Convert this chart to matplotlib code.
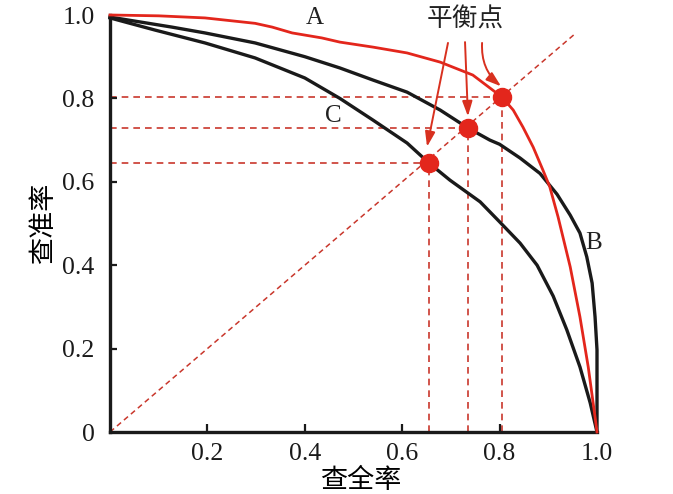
import matplotlib
matplotlib.use("Agg")
import matplotlib.pyplot as plt

# ---- data ----
a_x = [0.0, 0.10, 0.195, 0.298, 0.333, 0.374, 0.435, 0.472, 0.54, 0.61, 0.678, 0.745,
       0.805, 0.828, 0.848, 0.869, 0.889, 0.903, 0.92, 0.945, 0.965, 0.982, 0.996, 1.0]
a_y = [1.0, 0.998, 0.993, 0.98, 0.971, 0.957, 0.945, 0.935, 0.923, 0.909, 0.887, 0.856,
       0.803, 0.772, 0.731, 0.683, 0.628, 0.588, 0.516, 0.396, 0.276, 0.156, 0.036, 0.0]

b_x = [0.0, 0.127, 0.195, 0.298, 0.40, 0.472, 0.54, 0.61, 0.678, 0.735, 0.78, 0.80,
       0.842, 0.883, 0.918, 0.945, 0.965, 0.979, 0.99, 0.996, 1.0, 1.0]
b_y = [0.995, 0.971, 0.957, 0.933, 0.90, 0.873, 0.844, 0.815, 0.772, 0.729, 0.70, 0.69,
       0.657, 0.62, 0.57, 0.52, 0.477, 0.42, 0.357, 0.276, 0.197, 0.0]

c_x = [0.0, 0.092, 0.195, 0.298, 0.40, 0.472, 0.54, 0.61, 0.655, 0.698, 0.76, 0.80,
       0.842, 0.877, 0.91, 0.938, 0.965, 0.986, 1.0]
c_y = [0.993, 0.964, 0.933, 0.897, 0.849, 0.80, 0.748, 0.693, 0.645, 0.604, 0.552, 0.504,
       0.453, 0.400, 0.326, 0.245, 0.156, 0.07, 0.0]

bep_x = [0.655, 0.735, 0.805]
bep_y = [0.645, 0.729, 0.803]
diag_end = 0.953

x_ticks = [0.2, 0.4, 0.6, 0.8, 1.0]
x_labels = ["0.2", "0.4", "0.6", "0.8", "1.0"]
y_ticks = [0, 0.2, 0.4, 0.6, 0.8, 1.0]
y_labels = ["0", "0.2", "0.4", "0.6", "0.8", "1.0"]

curve_labels = {"A": (0.421, 0.993), "B": (0.994, 0.453), "C": (0.458, 0.757)}
bep_text = "平衡点"
bep_text_pos = (0.729, 0.988)
arrow_starts = [(0.694, 0.933), (0.729, 0.935), (0.764, 0.933)]
arrow_ends = [(0.651, 0.684), (0.735, 0.757), (0.803, 0.829)]
arrow_rads = [0.0, 0.0, 0.25]

xlabel = "查全率"
ylabel = "查准率"

# ---- styles ----
RED = "#e3261c"
DASH = "#c9372c"
SERIF = ["Liberation Serif", "DejaVu Serif"]
CJK = ["Noto Sans CJK SC", "DejaVu Sans"]

fig = plt.figure(figsize=(6.73, 4.94), dpi=100)
ax = fig.add_axes([110 / 673, 1 - 432 / 494, (597 - 110) / 673, (432 - 15) / 494])
ax.set_xlim(0, 1)
ax.set_ylim(0, 1)

# dashed guides
ax.plot([0, diag_end], [0, diag_end], ls=(0, (3.5, 2.5)), color=DASH, lw=1.1, zorder=1)
for bx, by in zip(bep_x, bep_y):
    ax.plot([0, bx], [by, by], ls=(0, (4, 3)), color=DASH, lw=1.2, zorder=1)
    ax.plot([bx, bx], [0, by], ls=(0, (4, 3)), color=DASH, lw=1.2, zorder=1)

# curves
ax.plot(a_x, a_y, color=RED, lw=2.0, zorder=3, clip_on=False, solid_joinstyle="round")
ax.plot(b_x, b_y, color="#1a1a1a", lw=2.4, zorder=2, clip_on=False, solid_joinstyle="round")
ax.plot(c_x, c_y, color="#1a1a1a", lw=2.4, zorder=2, clip_on=False, solid_joinstyle="round")

# break-even points
ax.plot(bep_x, bep_y, "o", color=RED, ms=13, zorder=5, ls="none")

# labels on curves
for k, (lx, ly) in curve_labels.items():
    ax.text(lx, ly, k, fontsize=18, family=SERIF, ha="center", va="center", color="#222222")

ax.text(bep_text_pos[0], bep_text_pos[1], bep_text, fontsize=18.5, family=CJK,
        ha="center", va="center", color="#222222")
for (sx, sy), (ex, ey), r in zip(arrow_starts, arrow_ends, arrow_rads):
    ax.annotate("", xy=(ex, ey), xytext=(sx, sy),
                arrowprops=dict(arrowstyle="-|>,head_length=0.9,head_width=0.3",
                                color="#d8301f", lw=1.4,
                                connectionstyle=f"arc3,rad={r}",
                                shrinkA=0, shrinkB=0), zorder=4)

# axes styling
for s in ("top", "right"):
    ax.spines[s].set_visible(False)
for s in ("left", "bottom"):
    ax.spines[s].set_linewidth(2.4)
    ax.spines[s].set_color("#1a1a1a")

ax.set_xticks(x_ticks)
ax.set_xticklabels(x_labels, family=SERIF, fontsize=18.5)
ax.set_yticks(y_ticks)
ax.set_yticklabels(y_labels, family=SERIF, fontsize=18.5)
ax.tick_params(axis="x", direction="in", length=6, width=1.6, pad=8, colors="#1a1a1a")
ax.tick_params(axis="y", direction="in", length=5, width=1.6, pad=11, colors="#1a1a1a")
ax.xaxis.get_major_ticks()[-1].tick1line.set_visible(False)
for t in (ax.yaxis.get_major_ticks()[0], ax.yaxis.get_major_ticks()[-1]):
    t.tick1line.set_visible(False)

ax.set_xlabel(xlabel, family=CJK, fontsize=19.5)
ax.xaxis.set_label_coords(0.515, -0.085)
ax.set_ylabel(ylabel, family=CJK, fontsize=19.5, labelpad=4)

fig.savefig("out.png", dpi=100)
